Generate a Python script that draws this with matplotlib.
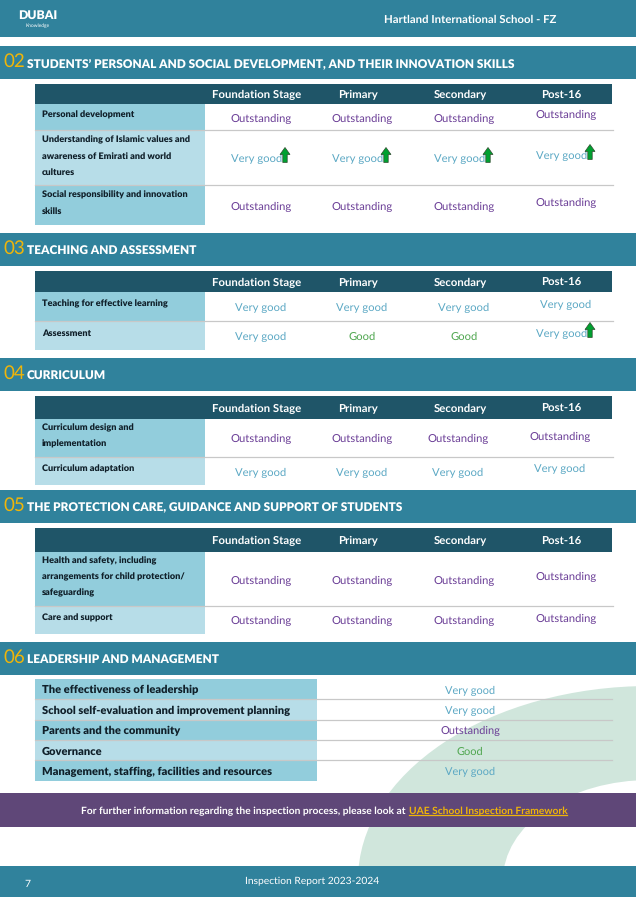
import matplotlib
matplotlib.use('Agg')
import matplotlib.pyplot as plt
from matplotlib.patches import Rectangle, Ellipse, Polygon

plt.rcParams['font.family'] = ['Lato', 'DejaVu Sans']
plt.rcParams['text.hinting'] = 'no_hinting'

BAND = '#30829C'
HEAD = '#1F5568'
ROW_A = '#92CDDC'
ROW_B = '#B7DDE8'
LINE = '#C8C8C8'
GOLD = '#EFB509'
PURPLE = '#5F4778'
colors = {'Outstanding': '#6A3D96', 'Very good': '#5BA8C4', 'Good': '#4FA64F'}
stages = ['Foundation Stage', 'Primary', 'Secondary', 'Post-16']

O, V, G = 'Outstanding', 'Very good', 'Good'

# band y, header y, x of rating text, rows
sections = [
    {'num': '02', 'title': "STUDENTS\u2019 PERSONAL AND SOCIAL DEVELOPMENT, AND THEIR INNOVATION SKILLS",
     'band': (46, 79), 'head': (84, 104), 'xs': [261, 362, 464, 566],
     'rows': [
         (['Personal development'], 104, 130, [O, O, O, O], 114),
         (['Understanding of Islamic values and', 'awareness of Emirati and world', 'cultures'], 130, 185, [V, V, V, V], 139),
         (['Social responsibility and innovation', 'skills'], 185, 225, [O, O, O, O], 194),
     ]},
    {'num': '03', 'title': 'TEACHING AND ASSESSMENT',
     'band': (233, 266), 'head': (271, 292), 'xs': [261, 362, 464, 566],
     'rows': [
         (['Teaching for effective learning'], 292, 321, [V, V, V, V], 303),
         (['Assessment'], 321, 350, [V, G, G, V], 332),
     ]},
    {'num': '04', 'title': 'CURRICULUM',
     'band': (358, 391), 'head': (396, 419), 'xs': [261, 362, 458, 560],
     'rows': [
         (['Curriculum design and', 'implementation'], 419, 457, [O, O, O, O], 427),
         (['Curriculum adaptation'], 457, 485, [V, V, V, V], 468),
     ]},
    {'num': '05', 'title': 'THE PROTECTION CARE, GUIDANCE AND SUPPORT OF STUDENTS',
     'band': (490, 523), 'head': (528, 552), 'xs': [261, 362, 464, 566],
     'rows': [
         (['Health and safety, including', 'arrangements for child protection/', 'safeguarding'], 552, 606, [O, O, O, O], 560),
         (['Care and support'], 606, 634, [O, O, O, O], 617),
     ]},
]
# rows which have the green arrow: (section, row, column)
arrows = [(0, 1, 0), (0, 1, 1), (0, 1, 2), (0, 1, 3), (1, 1, 3)]

leadership = [
    ('The effectiveness of leadership', V),
    ('School self-evaluation and improvement planning', V),
    ('Parents and the community', O),
    ('Governance', G),
    ('Management, staffing, facilities and resources', V),
]
lead_edges = [679, 699, 720, 740, 760, 781]

fig = plt.figure(figsize=(6.36, 8.97), dpi=100)
ax = fig.add_axes([0, 0, 1, 1])
ax.set_xlim(0, 636)
ax.set_ylim(897, 0)
ax.axis('off')


def rect(x0, y0, x1, y1, c, z=1):
    ax.add_patch(Rectangle((x0, y0), x1 - x0, y1 - y0, facecolor=c, edgecolor='none', zorder=z))


def up_arrow(x, y):
    # y is the arrow tip
    pts = [(x, y), (x + 5, y + 7), (x + 2.2, y + 7), (x + 2.2, y + 15),
           (x - 2.2, y + 15), (x - 2.2, y + 7), (x - 5, y + 7)]
    ax.add_patch(Polygon(pts, closed=True, facecolor='#00A030', edgecolor='#2E4A2E', linewidth=0.5, zorder=5))


# background arc
ax.add_patch(Ellipse((650, 880), 584, 388, facecolor='#D0E6DC', edgecolor='none', zorder=0))
ax.add_patch(Ellipse((650, 880), 294, 200, facecolor='white', edgecolor='none', zorder=0.5))

# top band
rect(0, 0, 636, 37, BAND)
ax.text(38, 15, 'DUBAI', color='white', fontsize=8.8, fontweight='heavy', ha='center', va='center', zorder=3)
ax.text(38, 25.5, 'Knowledge', color='white', fontsize=3.5, ha='center', va='center', zorder=3)
ax.text(470, 19.5, 'Hartland International School - FZ', color='white', fontsize=8.2, fontweight='bold',
        ha='center', va='center', zorder=3)

for si, sec in enumerate(sections):
    rect(0, sec['band'][0], 636, sec['band'][1], BAND)
    yc = (sec['band'][0] + sec['band'][1]) / 2
    ax.text(3, yc - 1, sec['num'], color=GOLD, fontsize=13.5, ha='left', va='center', zorder=3)
    ax.text(27, yc + 1, sec['title'], color='white', fontsize=8.6, fontweight='heavy', ha='left', va='center', zorder=3)
    rect(35, sec['head'][0], 612, sec['head'][1], HEAD)
    yh = (sec['head'][0] + sec['head'][1]) / 2
    for st, x in zip(stages, [257, 358, 460, 561]):
        ax.text(x, yh + 4.5, st, color='white', fontsize=8.2, fontweight='bold', ha='center', va='baseline', zorder=3)
    for ri, (label, y0, y1, ratings, ly) in enumerate(sec['rows']):
        rect(35, y0, 205, y1, ROW_B if ri % 2 else ROW_A, 2)
        if ri > 0:
            ax.plot([35, 613], [y0, y0], color=LINE, linewidth=0.9, zorder=3)
        for k, line in enumerate(label):
            ax.text(42, ly + k * 16 + 3.5, line, color='#10202A', fontsize=6.6, fontweight='heavy',
                    ha='left', va='baseline', zorder=4)
        for ci, r in enumerate(ratings):
            has_arrow = (si, ri, ci) in arrows
            x = sec['xs'][ci] - (4 if has_arrow else 0)
            y = (y0 + y1) / 2 - (3 if ci == 3 else 0) + 1
            ax.text(x, y + 3.5, r, color=colors[r], fontsize=8.1, ha='center', va='baseline', zorder=4)
            if has_arrow:
                up_arrow(x + 28, y - 11)

# section 06
rect(0, 642, 636, 675, BAND)
ax.text(3, 657.5, '06', color=GOLD, fontsize=13.5, ha='left', va='center', zorder=3)
ax.text(27, 659.5, 'LEADERSHIP AND MANAGEMENT', color='white', fontsize=8.6, fontweight='heavy',
        ha='left', va='center', zorder=3)
for i, (name, r) in enumerate(leadership):
    y0, y1 = lead_edges[i], lead_edges[i + 1]
    rect(35, y0, 317, y1, ROW_B if i % 2 else ROW_A, 2)
    if i > 0:
        ax.plot([35, 612], [y0, y0], color=LINE, linewidth=0.9, zorder=3)
    ax.text(42, (y0 + y1) / 2 + 4.5, name, color='#10202A', fontsize=8, fontweight='heavy', ha='left', va='baseline', zorder=4)
    ax.text(470, (y0 + y1) / 2 + 4.5, r, color=colors[r], fontsize=7.9, ha='center', va='baseline', zorder=4)

# purple strip
rect(0, 793, 636, 827, PURPLE)
ax.text(81, 811, 'For further information regarding the inspection process, please look at', color='white',
        fontsize=7.35, fontweight='bold', ha='left', va='center', zorder=3)
ax.text(409, 811, 'UAE School Inspection Framework', color=GOLD, fontsize=7.35, fontweight='bold',
        ha='left', va='center', zorder=3)
ax.plot([409, 567], [815.5, 815.5], color=GOLD, linewidth=0.9, zorder=3)

# footer
rect(0, 866, 636, 897, BAND)
ax.text(27, 884.5, '7', color='white', fontsize=7.5, ha='center', va='center', zorder=3)
ax.text(312, 881.5, 'Inspection Report 2023-2024', color='white', fontsize=7.4, ha='center', va='center', zorder=3)

fig.savefig('out.png', dpi=100)
